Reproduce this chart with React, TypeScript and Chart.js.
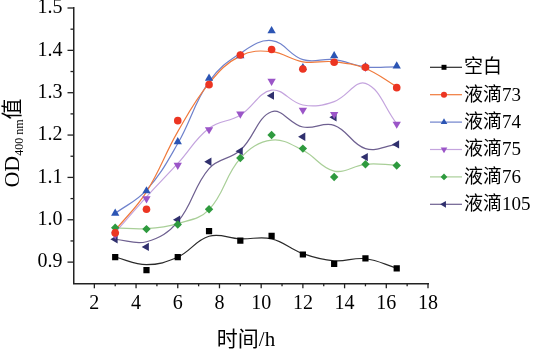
import React, { useEffect, useRef } from 'react';
import { Chart, registerables } from 'chart.js';
import { drawPoint } from 'chart.js/helpers';

Chart.register(...registerables);

// sampling times (h)
const timeH = [3, 4.5, 6, 7.5, 9, 10.5, 12, 13.5, 15, 16.5];
const seriesNames = ['空白', '液滴73', '液滴74', '液滴75', '液滴76', '液滴105'];

// measured OD400nm values (markers)
const blank = [0.912, 0.881, 0.912, 0.973, 0.951, 0.962, 0.918, 0.896, 0.909, 0.885];
const drop73 = [0.969, 1.025, 1.234, 1.319, 1.389, 1.402, 1.356, 1.372, 1.36, 1.312];
const drop74 = [1.015, 1.068, 1.184, 1.334, 1.387, 1.446, 1.359, 1.387, 1.361, 1.363];
const drop75 = [0.965, 1.05, 1.129, 1.213, 1.25, 1.327, 1.259, 1.249, 1.36, 1.226];
const drop76 = [0.981, 0.978, 0.989, 1.025, 1.146, 1.2, 1.168, 1.101, 1.131, 1.128];
const drop105 = [0.954, 0.936, 1.0, 1.137, 1.162, 1.293, 1.196, 1.242, 1.148, 1.178];

// smoothed fit curve values read at the same times
const blankFit = [0.912, 0.894, 0.912, 0.961, 0.955, 0.955, 0.92, 0.903, 0.908, 0.886];
const fit73 = [0.975, 1.066, 1.208, 1.322, 1.387, 1.397, 1.373, 1.373, 1.357, 1.314];
const fit74 = [1.015, 1.07, 1.18, 1.326, 1.393, 1.423, 1.378, 1.378, 1.361, 1.361];
const fit75 = [0.97, 1.054, 1.133, 1.216, 1.247, 1.306, 1.271, 1.279, 1.322, 1.227];
const fit76 = [0.981, 0.979, 0.991, 1.024, 1.145, 1.188, 1.164, 1.115, 1.131, 1.129];
const fit105 = [0.954, 0.948, 0.995, 1.121, 1.164, 1.255, 1.219, 1.223, 1.168, 1.178];

// axis tick labels
const xTickValues = [2, 4, 6, 8, 10, 12, 14, 16, 18];
const yTickValues = [0.9, 1.0, 1.1, 1.2, 1.3, 1.4, 1.5];

const pointValues = [blank, drop73, drop74, drop75, drop76, drop105];
const fitValues = [blankFit, fit73, fit74, fit75, fit76, fit105];

const markerColors = ['#000000', '#ec3522', '#2c55b4', '#9b55c8', '#2e9a3e', '#30306e'];
const lineColors = ['#2a2a2a', '#f07a3c', '#6f82cc', '#c4a4de', '#a9cf98', '#6e6090'];
const pointStyles = ['rect', 'circle', 'triangle', 'triangle', 'rectRot', 'triangle'];
const rotations = [0, 0, 0, 180, 0, -90];
const radii = [4.4, 3.8, 4.8, 4.8, 4.2, 4.8];

const SERIF = "'Liberation Serif', 'Times New Roman', serif";
const CJK = "'Liberation Serif', 'Noto Sans CJK SC', serif";

const decorPlugin = {
  id: 'decor',
  afterDraw(chart: any) {
    const ctx = chart.ctx;
    const xs = chart.scales.x;
    const ys = chart.scales.y;
    const area = chart.chartArea;
    ctx.save();
    ctx.strokeStyle = '#222';
    ctx.lineWidth = 1.3;
    // x tick marks
    for (let v = 2; v <= 18; v++) {
      const px = xs.getPixelForValue(v);
      const len = v % 2 === 0 ? 5 : 3;
      ctx.beginPath();
      ctx.moveTo(px, area.bottom);
      ctx.lineTo(px, area.bottom + len);
      ctx.stroke();
    }
    // y tick marks
    for (let k = 18; k <= 30; k++) {
      const v = k * 0.05;
      const py = ys.getPixelForValue(v);
      const len = k % 2 === 0 ? 6 : 3;
      ctx.beginPath();
      ctx.moveTo(area.left, py);
      ctx.lineTo(area.left - len, py);
      ctx.stroke();
    }

    // legend
    ctx.textBaseline = 'middle';
    ctx.textAlign = 'left';
    for (let i = 0; i < seriesNames.length; i++) {
      const y = 67.3 + i * 27.4;
      ctx.strokeStyle = lineColors[i];
      ctx.lineWidth = 1.2;
      ctx.beginPath();
      ctx.moveTo(430, y);
      ctx.lineTo(462, y);
      ctx.stroke();
      ctx.fillStyle = markerColors[i];
      drawPoint(ctx, { pointStyle: pointStyles[i], rotation: rotations[i], radius: radii[i] * 0.8, borderWidth: 0 }, 444, y);
      ctx.fillStyle = '#000';
      ctx.font = `19px ${CJK}`;
      ctx.fillText(seriesNames[i], 464, y + 1);
    }

    // x title
    ctx.font = `21px ${CJK}`;
    ctx.textAlign = 'center';
    ctx.textBaseline = 'alphabetic';
    ctx.fillStyle = '#000';
    ctx.fillText('时间/h', 246, 346);

    // y title (rotated)
    ctx.translate(19, 143);
    ctx.rotate(-Math.PI / 2);
    ctx.textAlign = 'left';
    ctx.font = `22px ${SERIF}`;
    const wOD = ctx.measureText('OD').width;
    ctx.font = `12px ${SERIF}`;
    const wSub = ctx.measureText('400 nm').width;
    ctx.font = `21px ${CJK}`;
    const wVal = ctx.measureText('值').width;
    let x0 = -(wOD + wSub + wVal) / 2;
    ctx.font = `22px ${SERIF}`;
    ctx.fillText('OD', x0, 0);
    x0 += wOD;
    ctx.font = `12px ${SERIF}`;
    ctx.fillText('400 nm', x0, 4);
    x0 += wSub;
    ctx.font = `21px ${CJK}`;
    ctx.fillText('值', x0, 0);
    ctx.restore();
  },
};

export default function App() {
  const ref = useRef<HTMLCanvasElement | null>(null);

  useEffect(() => {
    if (!ref.current) return;
    const datasets: any[] = [];
    for (let i = 0; i < seriesNames.length; i++) {
      datasets.push({
        label: seriesNames[i] + ' fit',
        data: timeH.map((t, j) => ({ x: t, y: fitValues[i][j] })),
        borderColor: lineColors[i],
        borderWidth: 1.2,
        pointRadius: 0,
        tension: 0.4,
        fill: false,
        order: 2,
      });
    }
    for (let i = 0; i < seriesNames.length; i++) {
      datasets.push({
        label: seriesNames[i],
        data: timeH.map((t, j) => ({ x: t, y: pointValues[i][j] })),
        showLine: false,
        pointStyle: pointStyles[i],
        rotation: rotations[i],
        pointRadius: radii[i],
        pointBackgroundColor: markerColors[i],
        pointBorderColor: markerColors[i],
        pointBorderWidth: 0,
        order: 1,
      });
    }
    const chart = new Chart(ref.current, {
      type: 'line',
      data: { datasets },
      plugins: [decorPlugin],
      options: {
        animation: false,
        responsive: false,
        layout: { padding: { left: 0, right: 112, top: 8, bottom: 0 } },
        plugins: { legend: { display: false }, tooltip: { enabled: false } },
        scales: {
          x: {
            type: 'linear',
            min: 1,
            max: 18,
            grid: { display: false, drawTicks: false },
            border: { display: true, color: '#222', width: 1.5 },
            afterBuildTicks: (s: any) => {
              s.ticks = xTickValues.map((v) => ({ value: v }));
            },
            afterFit: (s: any) => {
              s.height = 66.7;
              s.paddingLeft = 0;
              s.paddingRight = 0;
            },
            ticks: {
              font: { family: SERIF, size: 20 },
              color: '#000',
              padding: 8,
              maxRotation: 0,
              autoSkip: false,
              callback: (v: any) => String(v),
            },
          },
          y: {
            type: 'linear',
            min: 0.85,
            max: 1.5,
            grid: { display: false, drawTicks: false },
            border: { display: true, color: '#222', width: 1.5 },
            afterBuildTicks: (s: any) => {
              s.ticks = yTickValues.map((v) => ({ value: v }));
            },
            afterFit: (s: any) => {
              s.width = 73.5;
              s.paddingTop = 0;
              s.paddingBottom = 0;
            },
            ticks: {
              font: { family: SERIF, size: 20 },
              color: '#000',
              padding: 11,
              autoSkip: false,
              callback: (v: any) => Number(v).toFixed(1),
            },
          },
        },
      },
    });
    return () => chart.destroy();
  }, []);

  return (
    <div style={{ position: 'absolute', left: 0, top: 0, width: 540, height: 350, background: '#fff' }}>
      <canvas ref={ref} width={540} height={350} />
    </div>
  );
}
